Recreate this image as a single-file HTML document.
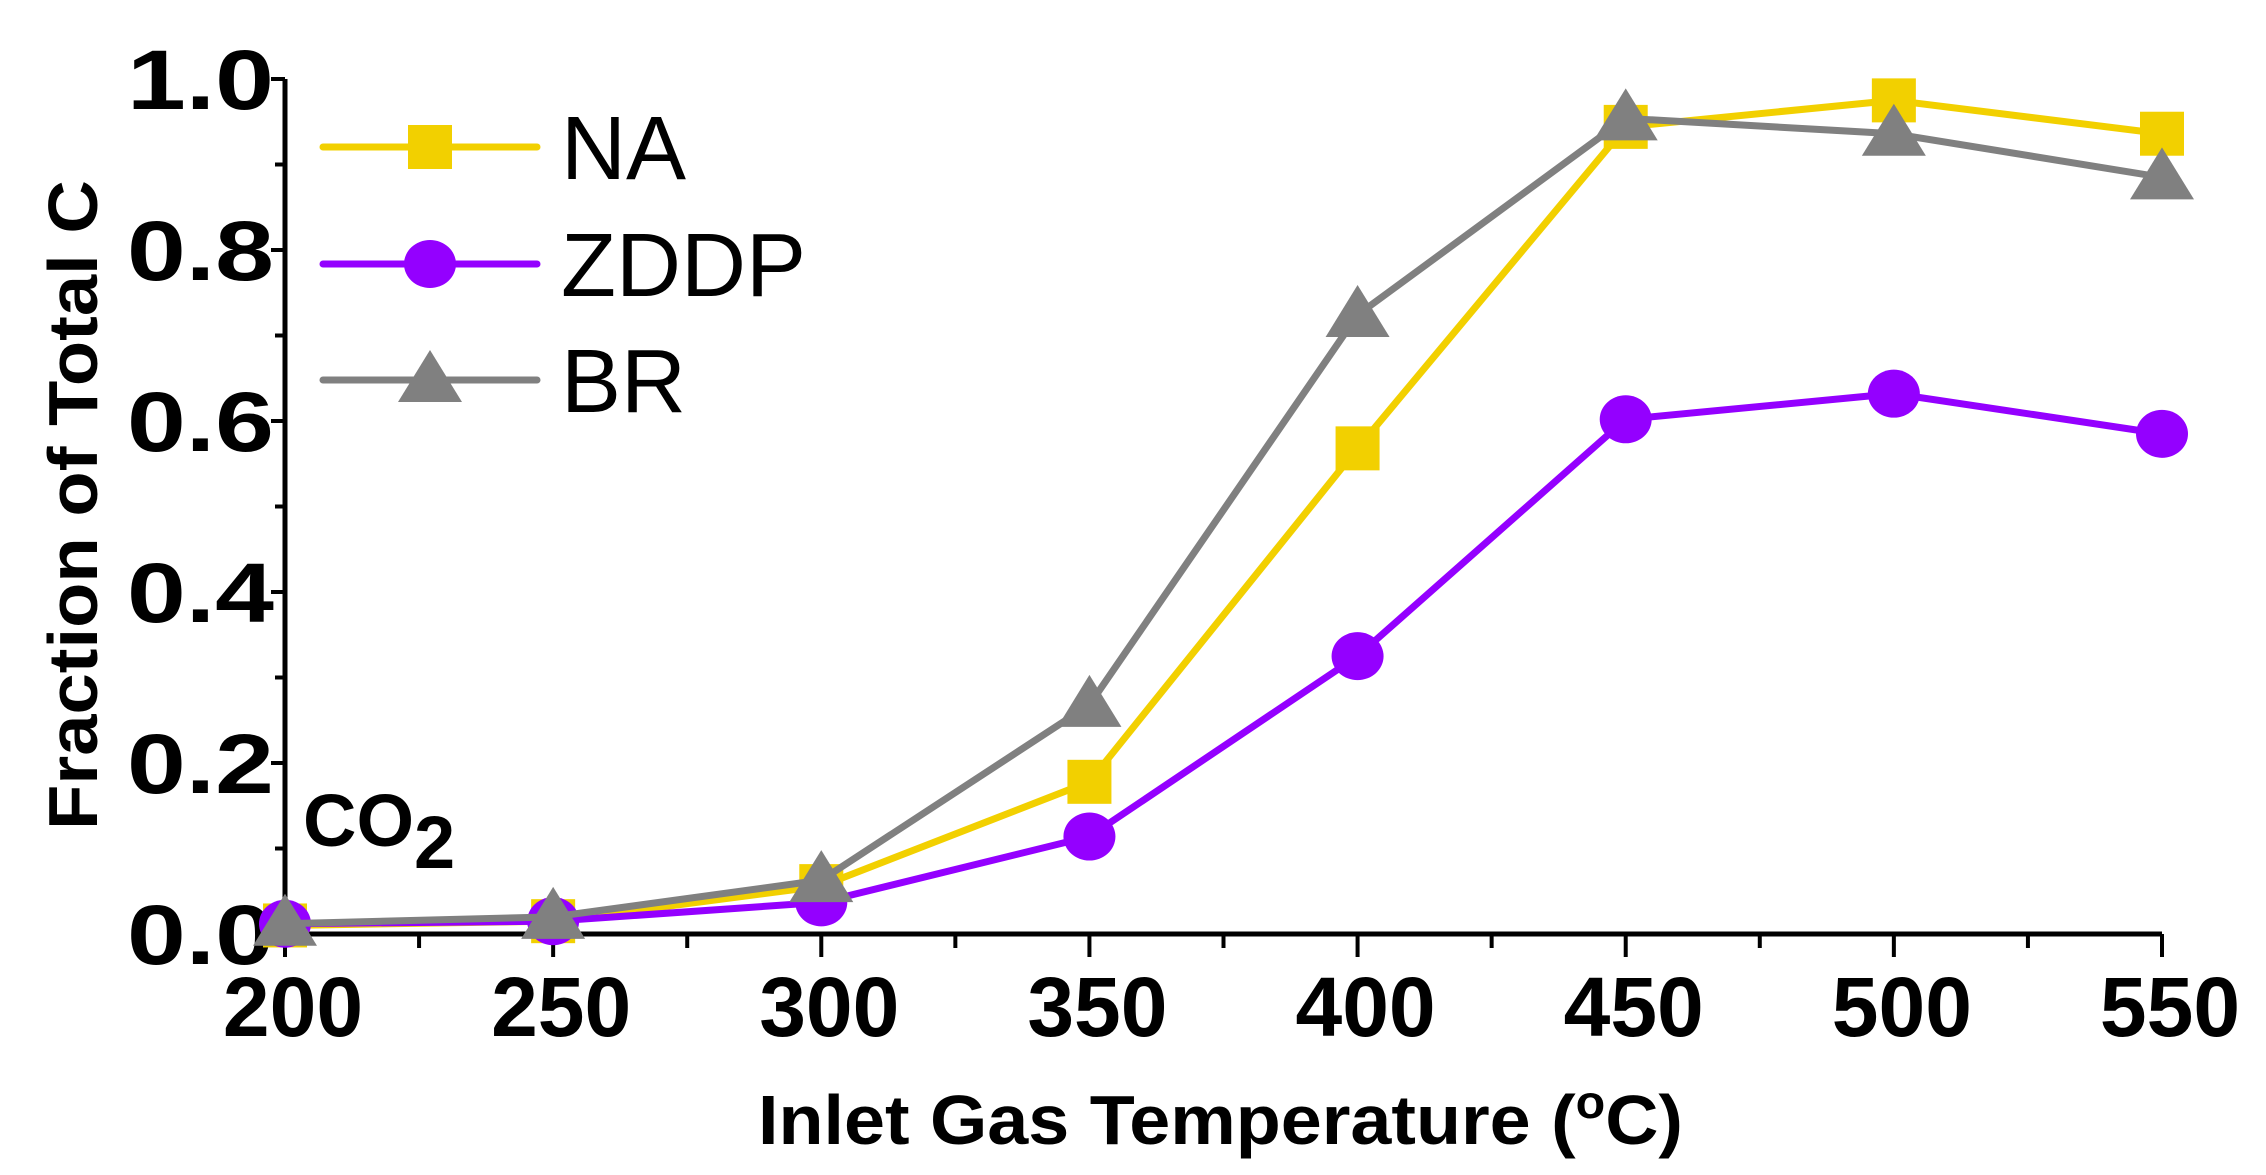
<!DOCTYPE html>
<html><head><meta charset="utf-8"><style>
html,body{margin:0;padding:0;background:#fff;}
svg{display:block;font-family:"Liberation Sans",Arial,sans-serif;}
</style></head><body>
<svg id="chart" width="2266" height="1175" viewBox="0 0 2266 1175">
<g id="axes"></g><g id="series"></g><g id="legend"></g>
</svg>
<script>
const categories = [200,250,300,350,400,450,500,550];
const naValues = [0.01,0.015,0.056,0.178,0.568,0.944,0.975,0.936];
const zddpValues = [0.012,0.015,0.037,0.114,0.325,0.602,0.632,0.585];
const brValues = [0.012,0.02,0.063,0.268,0.724,0.954,0.936,0.885];
const yTickLabels = ["0.0","0.2","0.4","0.6","0.8","1.0"];
const yTickValues = [0,0.2,0.4,0.6,0.8,1.0];
const xTickLabels = ["200","250","300","350","400","450","500","550"];

const NS="http://www.w3.org/2000/svg";
const X0=285,X1=2162,Y0=934,Y1=79;
const xs=v=>X0+(v-200)/(550-200)*(X1-X0);
const ys=v=>Y0-v*(Y0-Y1);
function mk(tag,attrs,parent,text){const e=document.createElementNS(NS,tag);for(const k in attrs)e.setAttribute(k,attrs[k]);if(text!==undefined)e.textContent=text;parent.appendChild(e);return e;}
const axes=document.getElementById('axes'),series=document.getElementById('series'),legend=document.getElementById('legend');

let a=mk('line',{x1:X0,y1:Y1,x2:X0,y2:Y0+2,stroke:'#000','stroke-width':5},axes);

a=mk('line',{x1:X0-2,y1:Y0,x2:X1,y2:Y0,stroke:'#000','stroke-width':5},axes);


for(let i=0;i<=10;i++){const v=i/10;const maj=i%2==0;
 const t=mk('line',{x1:X0-(maj?14:10),y1:ys(v),x2:X0,y2:ys(v),stroke:'#000','stroke-width':4},axes);
 }
yTickValues.forEach((v,i)=>{const t=mk('text',{x:274,y:ys(v)+30,'text-anchor':'end','font-size':84,'font-weight':'bold',textLength:147,lengthAdjust:'spacingAndGlyphs'},axes,yTickLabels[i]);
 });
for(let v=200;v<=550;v+=25){const maj=v%50==0;
 const t=mk('line',{x1:xs(v),y1:Y0,x2:xs(v),y2:Y0+(maj?23:14),stroke:'#000','stroke-width':4},axes);
 }
categories.forEach((v,i)=>{const t=mk('text',{x:xs(v)+8,y:1036,'text-anchor':'middle','font-size':84,'font-weight':'bold'},axes,xTickLabels[i]);
 });
let t=mk('text',{x:758,y:1144,'font-size':70,'font-weight':'bold',textLength:925,lengthAdjust:'spacingAndGlyphs'},axes);

t.innerHTML='Inlet Gas Temperature (<tspan dy="-26" font-size="46">o</tspan><tspan dy="26">C)</tspan>';
t=mk('text',{x:0,y:0,transform:'translate(97,505) rotate(-90)','text-anchor':'middle','font-size':70,'font-weight':'bold',textLength:650,lengthAdjust:'spacingAndGlyphs'},axes,'Fraction of Total C');

t=mk('text',{x:303,y:846,'font-size':74,'font-weight':'bold'},axes);

t.innerHTML='CO<tspan dy="22" font-size="74">2</tspan>';

const defs=[
 {name:'na',vals:naValues,color:'#F2D000',shape:'square',label:'NA',ly:147},
 {name:'zddp',vals:zddpValues,color:'#9400FF',shape:'circle',label:'ZDDP',ly:264},
 {name:'br',vals:brValues,color:'#808080',shape:'triangle',label:'BR',ly:380}];
function marker(g,shape,x,y,c){
 if(shape==='square')return mk('rect',{x:x-22,y:y-22,width:44,height:44,fill:c},g);
 if(shape==='circle')return mk('ellipse',{cx:x,cy:y,rx:26,ry:24,fill:c},g);
 return mk('polygon',{points:`${x},${y-30} ${x-32},${y+22} ${x+32},${y+22}`,fill:c},g);}
defs.forEach(d=>{
 const g=mk('g',{},series);
 
 const pl=mk('polyline',{points:categories.map((c,i)=>xs(c)+','+ys(d.vals[i])).join(' '),fill:'none',stroke:d.color,'stroke-width':7,'stroke-linejoin':'round'},g);
 
 categories.forEach((c,i)=>{const m=marker(g,d.shape,xs(c),ys(d.vals[i]),d.color);
  });
 const lg=mk('g',{},legend);
 
 mk('line',{x1:323,y1:d.ly,x2:537,y2:d.ly,stroke:d.color,'stroke-width':7,'stroke-linecap':'round'},lg);
 marker(lg,d.shape,430,d.ly,d.color);
 mk('text',{x:561,y:d.ly+32,'font-size':90},lg,d.label);
});
</script>
</body></html>
